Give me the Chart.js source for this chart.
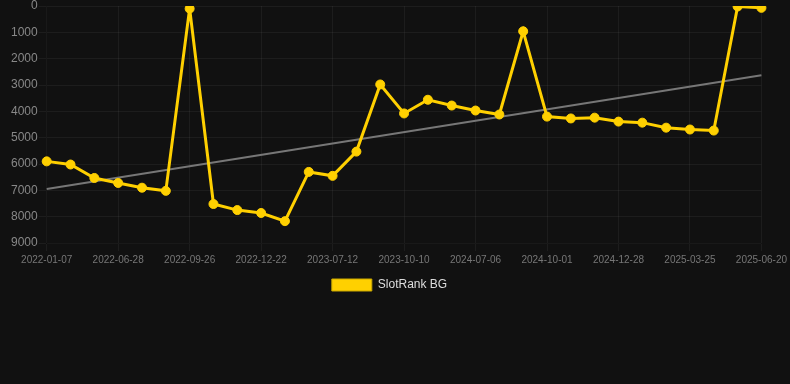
<!DOCTYPE html>
<html>
<head>
<meta charset="utf-8">
<script src="https://cdn.jsdelivr.net/npm/chart.js@4"></script>
<style>
  html, body { margin: 0; padding: 0; background: #111111; }
  #wrap { width: 790px; height: 301px; }
</style>
</head>
<body>
<div id="wrap"><canvas id="rankChart"></canvas></div>
<script>
const dates = [
    "2022-01-07", "2022-02-15", "2022-04-05", "2022-06-28", "2022-07-25", "2022-08-22",
    "2022-09-26", "2022-10-24", "2022-11-21", "2022-12-22", "2023-02-10", "2023-05-15",
    "2023-07-12", "2023-08-14", "2023-09-11", "2023-10-10", "2024-01-20", "2024-04-15",
    "2024-07-06", "2024-08-03", "2024-09-02", "2024-10-01", "2024-10-30", "2024-11-28",
    "2024-12-28", "2025-01-25", "2025-02-24", "2025-03-25", "2025-04-22", "2025-05-22",
    "2025-06-20"
];
const ranks = [
    5900, 6020, 6530, 6720, 6900, 7020,
    100, 7520, 7750, 7860, 8170, 6300,
    6450, 5530, 2980, 4080, 3560, 3780,
    3970, 4120, 960, 4200, 4270, 4240,
    4390, 4430, 4620, 4690, 4730, 20,
    70
];
// trend line end points
const trendStart = 6950;
const trendEnd = 2630;

const trend = dates.map((d, i) => i === 0 ? trendStart : (i === dates.length - 1 ? trendEnd : null));

const ctx = document.getElementById('rankChart');

new Chart(ctx, {
    type: 'line',
    data: {
        labels: dates,
        datasets: [{
            label: 'SlotRank BG',
            data: ranks,
            borderColor: '#FFD000',
            backgroundColor: '#FFD000',
            borderWidth: 3,
            pointRadius: 4.5,
            pointBorderWidth: 1,
            pointHoverRadius: 5,
            tension: 0,
        }, {
            label: 'trend',
            data: trend,
            borderColor: '#777777',
            borderWidth: 2,
            pointRadius: 0,
            spanGaps: true,
            fill: false,
        }]
    },
    options: {
        responsive: true,
        maintainAspectRatio: false,
        animation: false,
        layout: {
            padding: { left: 10, right: 21 }
        },
        scales: {
            x: {
                grid: { color: 'rgba(255,255,255,0.05)' },
                ticks: {
                    color: '#777',
                    font: { size: 10 },
                    autoSkip: false,
                    maxRotation: 0,
                    callback: function (value, index) {
                        return index % 3 === 0 ? this.getLabelForValue(value) : null;
                    }
                }
            },
            y: {
                reverse: true,
                min: 0,
                max: 9000,
                grid: { color: 'rgba(255,255,255,0.05)' },
                ticks: {
                    color: '#888',
                    font: { size: 12, lineHeight: 0.6 },
                    padding: 1,
                    stepSize: 1000,
                    callback: (v) => String(v)
                }
            }
        },
        plugins: {
            legend: {
                display: true,
                position: 'bottom',
                labels: {
                    color: '#dddddd',
                    boxWidth: 40,
                    boxHeight: 12,
                    font: { size: 12 },
                    generateLabels: (chart) => {
                        const items = Chart.defaults.plugins.legend.labels.generateLabels(chart);
                        return items
                            .filter(item => item.text !== 'trend')
                            .map(item => Object.assign(item, { lineWidth: 1, strokeStyle: '#c9a800' }));
                    }
                }
            },
            tooltip: { enabled: false }
        }
    }
});
</script>
</body>
</html>
